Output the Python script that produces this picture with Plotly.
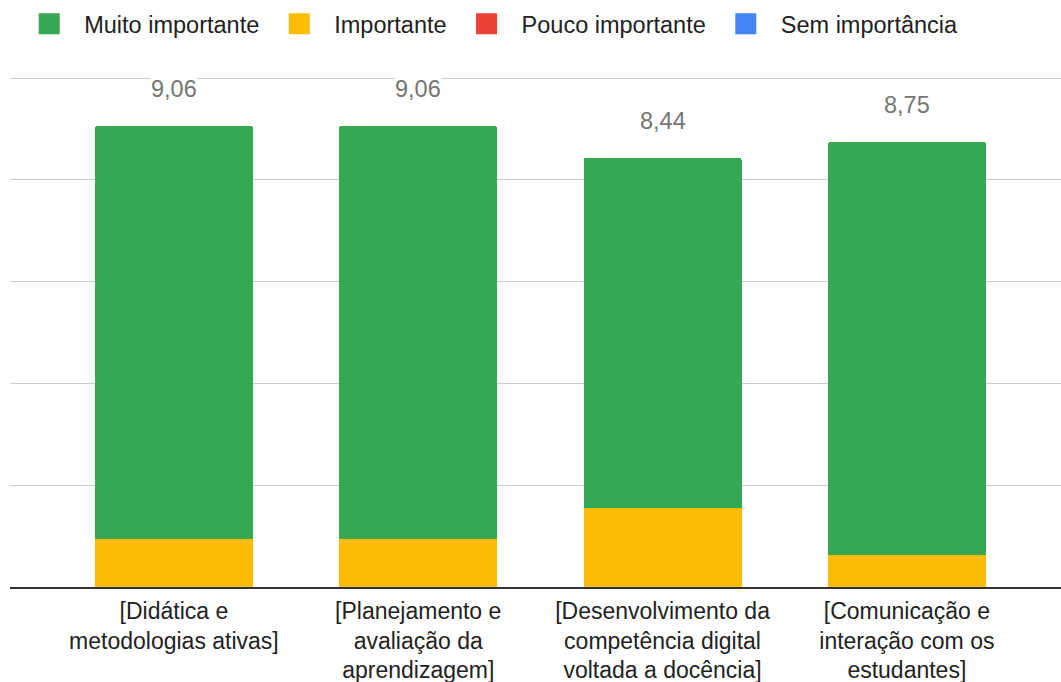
import plotly.graph_objects as go

categories = [
    "[Didática e<br>metodologias ativas]",
    "[Planejamento e<br>avaliação da<br>aprendizagem]",
    "[Desenvolvimento da<br>competência digital<br>voltada a docência]",
    "[Comunicação e<br>interação com os<br>estudantes]",
]
muito_importante = [8.125, 8.125, 6.875, 8.125]
importante = [0.9375, 0.9375, 1.5625, 0.625]
pouco_importante = [0, 0, 0, 0]
sem_importancia = [0, 0, 0, 0]
totais = ["9,06", "9,06", "8,44", "8,75"]

series_names = ["Muito importante", "Importante", "Pouco importante", "Sem importância"]
series_values = [muito_importante, importante, pouco_importante, sem_importancia]
series_colors = ["#34A853", "#FBBC04", "#EA4335", "#4285F4"]
stack_order = [2, 3, 1, 0]  # bottom to top (zero series at the bottom)

FONT = "Liberation Sans, Arial, sans-serif"
xs = list(range(len(categories)))

fig = go.Figure()
for k in stack_order:
    fig.add_trace(go.Bar(
        x=xs, y=series_values[k], name=series_names[k],
        marker=dict(color=series_colors[k], line=dict(width=0)),
        width=0.647, showlegend=False, legendgroup=series_names[k],
    ))

# legend entries (square swatches)
for k, name in enumerate(series_names):
    fig.add_trace(go.Scatter(
        x=[None], y=[None], mode="markers", name=name, legendgroup=name,
        marker=dict(symbol="square", size=16, color=series_colors[k],
                    line=dict(color=series_colors[k], width=5)),
        legendrank=k + 1, hoverinfo="skip",
    ))

sums = [a + b + c + d for a, b, c, d in zip(muito_importante, importante, pouco_importante, sem_importancia)]
for i, (s, t) in enumerate(zip(sums, totais)):
    fig.add_annotation(x=i, y=s, text=t, showarrow=False, yanchor="bottom", yshift=23,
                       font=dict(family=FONT, size=23.5, color="#757575"),
                       bgcolor="white", borderpad=0)

fig.update_layout(
    width=1061, height=682,
    barmode="stack", barcornerradius=3,
    margin=dict(l=10, r=0, t=68, b=95),
    paper_bgcolor="white", plot_bgcolor="white",
    font=dict(family=FONT, size=23.5, color="#222222"),
    showlegend=True,
    legend=dict(orientation="h", x=0.004, xanchor="left", y=1.085, yanchor="middle",
                font=dict(size=23.5, color="#222222"), traceorder="normal",
                itemsizing="trace", itemwidth=60),
    xaxis=dict(
        tickmode="array", tickvals=xs, ticktext=categories,
        range=[-0.671, 3.631], showgrid=False, zeroline=False, showline=True,
        linecolor="#333333", linewidth=2, ticks="", ticklabelstandoff=2,
        automargin=False,
        tickfont=dict(family=FONT, size=23, color="#222222"),
    ),
    yaxis=dict(range=[0, 10.2], tickvals=[0, 2, 4, 6, 8, 10], showgrid=True,
               gridcolor="#CCCCCC", gridwidth=1, automargin=False,
               showticklabels=False, zeroline=False, showline=False, ticks=""),
)

fig.write_html("out.html")
